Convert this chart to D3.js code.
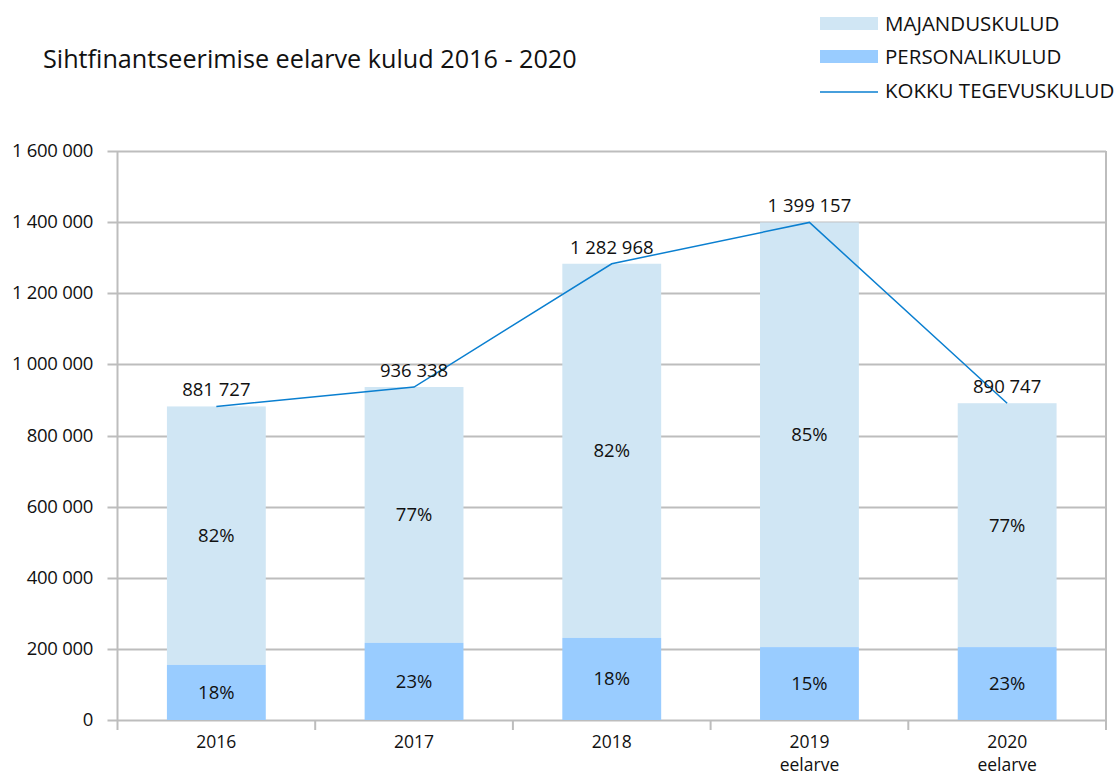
<!DOCTYPE html>
<html><head><meta charset="utf-8">
<script src="https://cdn.jsdelivr.net/npm/d3@7"></script>
<style>body{margin:0;background:#fff}svg{display:block;font-family:"Open Sans",sans-serif}</style>
</head><body><svg id="c" width="1117" height="776"></svg>
<script>
const categories = ["2016","2017","2018","2019\neelarve","2020\neelarve"];
const personal = [155000, 217000, 231000, 205000, 205000];
const totals = [881727, 936338, 1282968, 1399157, 890747];
const personalPct = ["18%","23%","18%","15%","23%"];
const majandusPct = ["82%","77%","82%","85%","77%"];
const totalLabels = ["881 727","936 338","1 282 968","1 399 157","890 747"];
const yTicks = [0,200000,400000,600000,800000,1000000,1200000,1400000,1600000];
const legendItems = ["MAJANDUSKULUD","PERSONALIKULUD","KOKKU TEGEVUSKULUD"];

const cLight="#d0e6f4", cPers="#99ccff", cLine="#0a7fd0", cGrid="#bdbdbd";
const svg=d3.select("#c");
const L=117.5, R=1106, T=151, B=720;
const x=d3.scaleBand().domain(categories).range([L,R]).paddingInner(0.5).paddingOuter(0.25);
const xb=d3.scaleBand().domain(categories).range([L,R]);
const y=d3.scaleLinear().domain([0,1600000]).range([B,T]);
const fmt=v=>d3.format(",")(v).replace(/,/g," ");

// title
svg.append("text").attr("x",43).attr("y",68).attr("font-size",25.2).attr("fill","#111").text("Sihtfinantseerimise eelarve kulud 2016 - 2020");

// grid
svg.append("g").selectAll("line").data(yTicks).join("line")
 .attr("x1",L-10).attr("x2",R).attr("y1",d=>Math.round(y(d))+0.5).attr("y2",d=>Math.round(y(d))+0.5)
 .attr("stroke",cGrid).attr("stroke-width",2);
svg.append("g").selectAll("text").data(yTicks).join("text")
 .attr("x",93).attr("y",d=>y(d)+6).attr("text-anchor","end").attr("font-size",18.5).attr("letter-spacing",-0.3).attr("fill","#111").text(fmt);
// y axis line & right border
svg.append("line").attr("x1",L).attr("x2",L).attr("y1",T).attr("y2",B+10).attr("stroke",cGrid).attr("stroke-width",2);
svg.append("line").attr("x1",R).attr("x2",R).attr("y1",T).attr("y2",B+10).attr("stroke",cGrid).attr("stroke-width",2);
// x ticks
svg.append("g").selectAll("line").data(categories.slice(1)).join("line")
 .attr("x1",d=>xb(d)).attr("x2",d=>xb(d)).attr("y1",B).attr("y2",B+10).attr("stroke",cGrid).attr("stroke-width",2);

// bars
const g=svg.append("g");
g.selectAll("rect.m").data(categories).join("rect").attr("class","m")
 .attr("x",d=>x(d)).attr("width",x.bandwidth()).attr("y",(d,i)=>y(totals[i])).attr("height",(d,i)=>y(personal[i])-y(totals[i])).attr("fill",cLight);
g.selectAll("rect.p").data(categories).join("rect").attr("class","p")
 .attr("x",d=>x(d)).attr("width",x.bandwidth()).attr("y",(d,i)=>y(personal[i])).attr("height",(d,i)=>y(0)-y(personal[i])).attr("fill",cPers);

// pct labels
const cx=d=>x(d)+x.bandwidth()/2;
g.selectAll("text.pp").data(categories).join("text").attr("class","pp")
 .attr("x",cx).attr("y",(d,i)=>(y(0)+y(personal[i]))/2+6.5).attr("text-anchor","middle").attr("font-size",18.5).attr("fill","#111").text((d,i)=>personalPct[i]);
g.selectAll("text.mp").data(categories).join("text").attr("class","mp")
 .attr("x",cx).attr("y",(d,i)=>(y(totals[i])+y(personal[i]))/2+6.5).attr("text-anchor","middle").attr("font-size",18.5).attr("fill","#111").text((d,i)=>majandusPct[i]);

// line
svg.append("path").datum(categories).attr("fill","none").attr("stroke",cLine).attr("stroke-width",1.5)
 .attr("d",d3.line().x(cx).y((d,i)=>y(totals[i]))(categories));
svg.selectAll("text.tl").data(categories).join("text").attr("class","tl")
 .attr("x",cx).attr("y",(d,i)=>y(totals[i])-10).attr("text-anchor","middle").attr("font-size",18.5).attr("fill","#111").text((d,i)=>totalLabels[i]);

// x labels
categories.forEach(c=>{
  const lines=c.split("\n");
  lines.forEach((s,k)=>svg.append("text").attr("x",cx(c)).attr("y",748+k*23.3)
    .attr("text-anchor","middle").attr("font-size",17.5).attr("fill","#111").text(s));
});

// legend
const lg=svg.append("g");
const ly=[31,64,98];
lg.append("rect").attr("x",820).attr("y",17).attr("width",58).attr("height",13).attr("fill",cLight);
lg.append("rect").attr("x",820).attr("y",50).attr("width",58).attr("height",13).attr("fill",cPers);
lg.append("line").attr("x1",820).attr("x2",878).attr("y1",92).attr("y2",92).attr("stroke",cLine).attr("stroke-width",1.5);
lg.selectAll("text").data(legendItems).join("text").attr("x",885).attr("y",(d,i)=>ly[i]).attr("font-size",20.5).attr("fill","#111").text(d=>d);
</script></body></html>
